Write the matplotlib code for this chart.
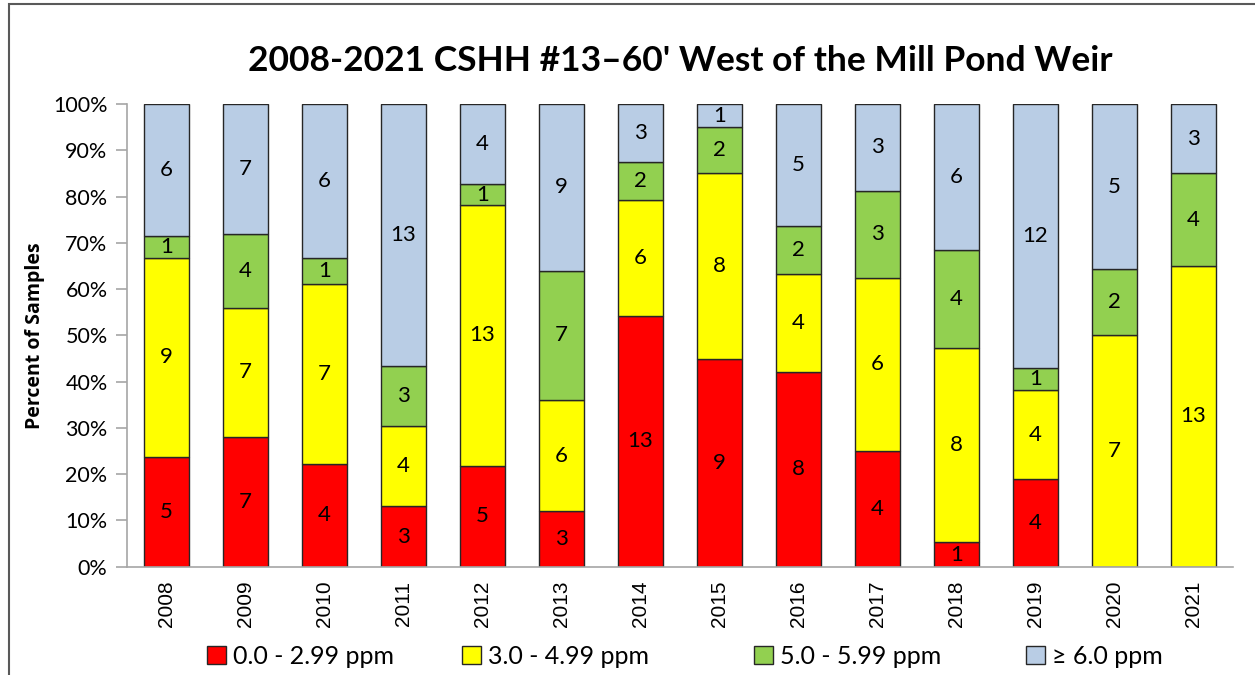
import matplotlib
matplotlib.use("Agg")
import matplotlib.pyplot as plt
import matplotlib.patches as mpatches
import numpy as np

plt.rcParams['font.family'] = ['Lato', 'DejaVu Sans']

years = ['2008', '2009', '2010', '2011', '2012', '2013', '2014',
         '2015', '2016', '2017', '2018', '2019', '2020', '2021']
low = [5, 7, 4, 3, 5, 3, 13, 9, 8, 4, 1, 4, 0, 0]          # 0.0 - 2.99 ppm
mid = [9, 7, 7, 4, 13, 6, 6, 8, 4, 6, 8, 4, 7, 13]        # 3.0 - 4.99 ppm
upper = [1, 4, 1, 3, 1, 7, 2, 2, 2, 3, 4, 1, 2, 4]         # 5.0 - 5.99 ppm
high = [6, 7, 6, 13, 4, 9, 3, 1, 5, 3, 6, 12, 5, 3]        # >= 6.0 ppm

series_names = ['0.0 - 2.99 ppm', '3.0 - 4.99 ppm', '5.0 - 5.99 ppm', '\u2265 6.0 ppm']
colors = ['#FF0000', '#FFFF00', '#92D050', '#B9CDE5']

counts = np.array([low, mid, upper, high], dtype=float)
totals = counts.sum(axis=0)
shares = counts / totals

fig = plt.figure(figsize=(12.55, 6.75), dpi=100)
ax = fig.add_axes([0.1012, 0.1604, 0.8813, 0.6855])

x = np.arange(len(years))
bottom = np.zeros(len(years))
handles = []
for name, col, share, cnt in zip(series_names, colors, shares, counts):
    bars = ax.bar(x, share, 0.58, bottom=bottom, color=col,
                  edgecolor='#262626', linewidth=1.0, label=name)
    handles.append(bars)
    labels = [f'{int(c)}' if c > 0 else '' for c in cnt]
    ax.bar_label(bars, labels=labels, label_type='center', fontsize=16)
    bottom += share

ax.set_xlim(-0.5, len(years) - 0.5)
ax.set_ylim(0, 1)
ax.set_yticks(np.arange(0, 1.01, 0.1))
ax.set_yticklabels([f'{int(round(v * 100))}%' for v in np.arange(0, 1.01, 0.1)], fontsize=15.5)
ax.set_xticks(x)
ax.set_xticklabels(years, rotation=90, fontsize=15, family='Liberation Sans')
ax.tick_params(axis='x', length=0, pad=10)
ax.tick_params(axis='y', length=8, color='#A6A6A6', width=1.2, pad=6)

for side in ['top', 'right']:
    ax.spines[side].set_visible(False)
for side in ['left', 'bottom']:
    ax.spines[side].set_color('#A6A6A6')
    ax.spines[side].set_linewidth(1.2)

ax.set_ylabel('Percent of Samples', fontsize=14, fontweight='bold',
              family='Open Sans', labelpad=6)
fig.text(0.542, 0.91, "2008-2021 CSHH #13\u201360' West of the Mill Pond Weir",
         ha='center', va='center', fontsize=25.5, fontweight='bold')

# legend entries placed one by one, as the spacing is uneven
legend_x = [207, 462, 754, 1026]
for h, name, lx in zip(handles, series_names, legend_x):
    lg = fig.legend(handles=[h], labels=[name], loc='center left',
                    bbox_to_anchor=(lx / 1255, 1 - 656 / 675), frameon=False,
                    fontsize=18, handlelength=0.75, handleheight=0.75,
                    handletextpad=0.3, borderpad=0, borderaxespad=0)

border = mpatches.Rectangle((9 / 1255, -0.05), 1.2, 1 - 4 / 675 + 0.05,
                            transform=fig.transFigure, fill=False,
                            edgecolor='#595959', linewidth=1.5)
fig.patches.append(border)

fig.savefig('out.png', dpi=100)
